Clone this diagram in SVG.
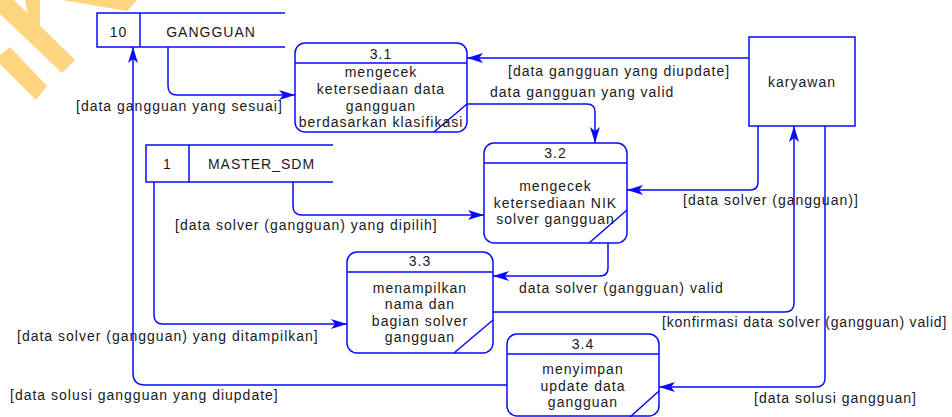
<svg xmlns="http://www.w3.org/2000/svg" width="952" height="417" viewBox="0 0 952 417">
  <style>
    .ln { fill: none; stroke: #0a0aff; stroke-width: 1.5; }
    .box { fill: #ffffff; stroke: #0a0aff; stroke-width: 1.5; }
    .flow { fill: none; stroke: #0a0aff; stroke-width: 1.5; marker-end: url(#arr); }
    .tx { font-family: "Liberation Sans", Arial, sans-serif; font-size: 14px; letter-spacing: 1px; fill: #1a1a1a; }
    .c { text-anchor: middle; }
    .wm { fill: #ffd580; }
  </style>
  <defs>
    <marker id="arr" viewBox="0 0 16 10" refX="16" refY="5" markerWidth="16" markerHeight="10" orient="auto" markerUnits="userSpaceOnUse">
      <path d="M0,0 L16,5 L0,10 L4,5 Z" fill="#0a0aff"/>
    </marker>
  </defs>

  <rect width="952" height="417" fill="#ffffff"/>

  <!-- faint logo marks in the top-left corner -->
  <g id="logo">
    <polygon class="wm" points="0,0 14,0 75,60 62,73 0,14"/>
    <polygon class="wm" points="25,0 40,0 40,32 30,26"/>
    <polygon class="wm" points="0,55 10,47 47,86 36,100 0,64"/>
    <polygon class="wm" points="62,0 137,0 127,11"/>
  </g>

  <!-- data stores -->
  <g id="store-gangguan">
    <path class="ln" d="M285,13 H97 V47 H285 M140,13 V47"/>
    <text class="tx c" x="118.5" y="37">10</text>
    <text class="tx c" x="211" y="37">GANGGUAN</text>
  </g>
  <g id="store-master-sdm">
    <path class="ln" d="M333,145 H146 V182 H333 M189,145 V182"/>
    <text class="tx c" x="167.5" y="169">1</text>
    <text class="tx c" x="261.5" y="169">MASTER_SDM</text>
  </g>

  <!-- external entity -->
  <g id="karyawan">
    <rect class="box" x="749" y="37" width="106" height="89"/>
    <text class="tx c" x="802" y="87">karyawan</text>
  </g>

  <!-- processes -->
  <g id="p3-1">
    <rect class="box" x="295" y="43" width="172" height="89" rx="10"/>
    <path class="ln" d="M295,63 H467 M434,132 L467,104"/>
    <text class="tx c" x="381" y="59">3.1</text>
    <text class="tx c" x="381" y="77">mengecek</text>
    <text class="tx c" x="381" y="94">ketersediaan data</text>
    <text class="tx c" x="381" y="110.5">gangguan</text>
    <text class="tx c" x="381" y="127">berdasarkan klasifikasi</text>
  </g>
  <g id="p3-2">
    <rect class="box" x="484" y="143" width="143" height="100" rx="10"/>
    <path class="ln" d="M484,163 H627 M589,243 L627,210"/>
    <text class="tx c" x="555.5" y="157.5">3.2</text>
    <text class="tx c" x="555.5" y="191">mengecek</text>
    <text class="tx c" x="555.5" y="207.5">ketersediaan NIK</text>
    <text class="tx c" x="555.5" y="224">solver gangguan</text>
  </g>
  <g id="p3-3">
    <rect class="box" x="347" y="252" width="146" height="101" rx="10"/>
    <path class="ln" d="M347,272 H493 M454,353 L493,320"/>
    <text class="tx c" x="420" y="266">3.3</text>
    <text class="tx c" x="420" y="292.5">menampilkan</text>
    <text class="tx c" x="420" y="309">nama dan</text>
    <text class="tx c" x="420" y="325.5">bagian solver</text>
    <text class="tx c" x="420" y="342">gangguan</text>
  </g>
  <g id="p3-4">
    <rect class="box" x="507" y="334" width="152" height="82" rx="10"/>
    <path class="ln" d="M507,354 H659 M630,417 L659,391"/>
    <text class="tx c" x="583" y="349">3.4</text>
    <text class="tx c" x="583" y="374">menyimpan</text>
    <text class="tx c" x="583" y="390.5">update data</text>
    <text class="tx c" x="583" y="407">gangguan</text>
  </g>

  <!-- data flows -->
  <g id="connectors">
    <text class="tx" x="76" y="111">[data gangguan yang sesuai]</text>
    <text class="tx" x="508" y="76">[data gangguan yang diupdate]</text>
    <text class="tx" x="490" y="97">data gangguan yang valid</text>
    <text class="tx" x="683" y="205">[data solver (gangguan)]</text>
    <text class="tx" x="175" y="230">[data solver (gangguan) yang dipilih]</text>
    <text class="tx" x="519" y="293">data solver (gangguan) valid</text>
    <text class="tx" x="17" y="341">[data solver (gangguan) yang ditampilkan]</text>
    <text class="tx" x="662" y="327" style="letter-spacing:0.7px" textLength="285" lengthAdjust="spacing">[konfirmasi data solver (gangguan) valid]</text>
    <text class="tx" x="754" y="403">[data solusi gangguan]</text>
    <text class="tx" x="10" y="400">[data solusi gangguan yang diupdate]</text>

    <path class="flow" d="M168,47 V86 Q168,95 177,95 H295"/>
    <path class="flow" d="M749,58 H467"/>
    <path class="flow" d="M467,104 H587 Q595,104 595,112 V143"/>
    <path class="flow" d="M293,182 V206 Q293,215 302,215 H484"/>
    <path class="flow" d="M758,126 V182 Q758,190 750,190 H627"/>
    <path class="flow" d="M608,243 V268 Q608,276 600,276 H493"/>
    <path class="flow" d="M154,182 V315 Q154,324 163,324 H347"/>
    <path class="flow" d="M493,312 H785 Q794,312 794,303 V126"/>
    <path class="flow" d="M825,126 V378 Q825,387 816,387 H659"/>
    <path class="flow" d="M507,385 H145 Q133,385 133,373 V47"/>
  </g>
</svg>
